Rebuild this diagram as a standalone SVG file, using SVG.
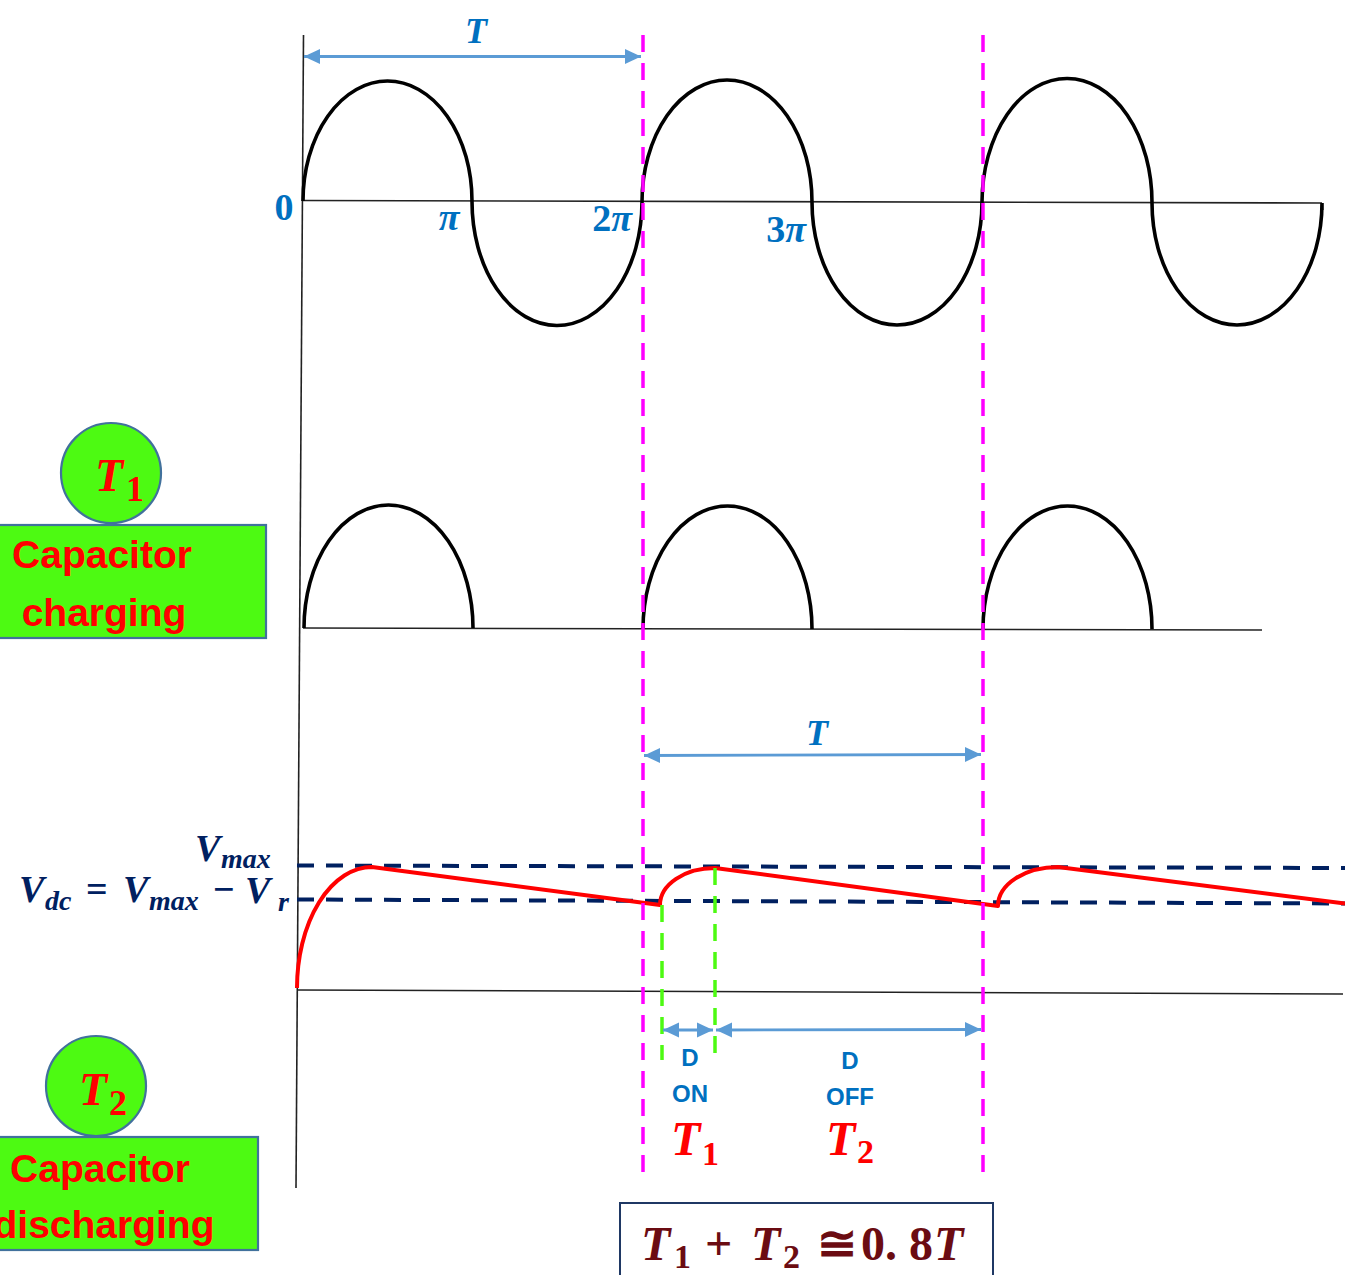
<svg xmlns="http://www.w3.org/2000/svg" width="1345" height="1275" viewBox="0 0 1345 1275">
<defs>
<style>
.axis{stroke:#222;stroke-width:1.6;fill:none}
.wave{stroke:#000;stroke-width:3.6;fill:none;stroke-linecap:butt}
.mag{stroke:#FF00FF;stroke-width:3.5;stroke-dasharray:17 11;fill:none}
.grn{stroke:#4DFA12;stroke-width:3.5;stroke-dasharray:17 11;fill:none}
.navy{stroke:#002060;stroke-width:4;stroke-dasharray:17 12;fill:none}
.red{stroke:#FF0000;stroke-width:4;fill:none;stroke-linejoin:round}
.arr{stroke:#5B9BD5;stroke-width:2.8;fill:none;marker-start:url(#ah);marker-end:url(#ah)}
.math{font-family:"Liberation Serif","DejaVu Serif",serif;font-weight:bold;font-style:italic}
.up{font-style:normal}
.blue{fill:#0070C0}
.dk{fill:#002060}
.rd{fill:#FF0000}
.br{fill:#6B0C12}
.lbl{font-family:"Liberation Sans","Open Sans",sans-serif;font-weight:bold;fill:#0070C0;font-size:24px;text-anchor:middle}
.node{font-family:"Liberation Sans","Open Sans",sans-serif;font-weight:bold;fill:#FF0000;font-size:39px;text-anchor:middle}
.nfill{fill:#4DFA12;stroke:#41719C;stroke-width:2.2}
</style>
<marker id="ah" viewBox="0 0 16 16" refX="16" refY="8" markerWidth="16" markerHeight="16" markerUnits="userSpaceOnUse" orient="auto-start-reverse">
<path d="M0,0.5 L16,8 L0,15.5 Z" fill="#5B9BD5"/>
</marker>
</defs>

<g id="axes">
<line class="axis" x1="303.5" y1="35" x2="296" y2="1188"/>
<line class="axis" x1="303" y1="200.5" x2="1322" y2="203"/>
<line class="axis" x1="303" y1="628" x2="1262" y2="630"/>
<line class="axis" x1="297" y1="990" x2="1343" y2="994"/>
</g>

<g id="input-wave">
<path class="wave" d="M303,201 A84.5,120 0 0 1 472,201 A85,124 0 0 0 642,202 A85,122 0 0 1 812,202 A85,123 0 0 0 982,202 A85,124 0 0 1 1152,203 A85,122 0 0 0 1322,203 L1322,210"/>
</g>

<g id="rectified-wave">
<path class="wave" d="M304,628 A84.5,123 0 0 1 473,628"/>
<path class="wave" d="M643,629 A84.5,123 0 0 1 812,629"/>
<path class="wave" d="M983,629 A84.5,123 0 0 1 1152,629"/>
</g>

<g id="levels">
<line class="navy" x1="297" y1="865.5" x2="1345" y2="868"/>
<line class="navy" x1="297" y1="899.5" x2="1345" y2="903.5"/>
</g>

<g id="capacitor-voltage">
<path class="red" d="M297,988 A75,121 0 0 1 372,867 L660,905 A55,37 0 0 1 715,868 L998,906 A60,39 0 0 1 1058,867 L1345,903.5"/>
</g>

<g id="connectors">
<line class="mag" x1="643" y1="35" x2="643" y2="1172"/>
<line class="mag" x1="983" y1="35" x2="983" y2="1172"/>
<line class="grn" x1="662" y1="905" x2="662" y2="1060"/>
<line class="grn" x1="715" y1="868" x2="715" y2="1055"/>
<line class="arr" x1="304" y1="56.5" x2="641" y2="56.5"/>
<line class="arr" x1="644" y1="755.5" x2="981" y2="754.5"/>
<line class="arr" x1="663" y1="1030" x2="713" y2="1030"/>
<line class="arr" x1="716" y1="1030" x2="981" y2="1029.5"/>
</g>

<g id="axis-labels">
<text class="math blue" x="476" y="43" font-size="36" text-anchor="middle">T</text>
<text class="math blue up" x="284" y="220" font-size="38" text-anchor="middle">0</text>
<text class="math blue" x="449" y="230" font-size="38" text-anchor="middle">π</text>
<text class="math blue" x="612" y="231" font-size="38" text-anchor="middle"><tspan class="up">2</tspan>π</text>
<text class="math blue" x="786" y="242" font-size="38" text-anchor="middle"><tspan class="up">3</tspan>π</text>
<text class="math blue" x="817" y="745" font-size="36" text-anchor="middle">T</text>
</g>

<g id="voltage-labels">
<text class="math dk" font-size="38"><tspan x="195" y="861">V</tspan><tspan x="221" y="868" font-size="28">max</tspan></text>
<text class="math dk" font-size="38"><tspan x="19" y="902">V</tspan><tspan x="45" y="910" font-size="28">dc</tspan><tspan x="86" y="902" class="up">=</tspan><tspan x="123" y="902">V</tspan><tspan x="149" y="910" font-size="28">max</tspan><tspan x="213" y="902" class="up">−</tspan><tspan x="245" y="903">V</tspan><tspan x="278" y="911" font-size="28">r</tspan></text>
</g>

<g id="diode-labels">
<text class="lbl" x="690" y="1066">D</text>
<text class="lbl" x="690" y="1102">ON</text>
<text class="lbl" x="850" y="1069">D</text>
<text class="lbl" x="850" y="1105">OFF</text>
<text class="math rd" font-size="48"><tspan x="671" y="1155">T</tspan><tspan x="702" y="1165" font-size="34" class="up">1</tspan></text>
<text class="math rd" font-size="48"><tspan x="826" y="1155">T</tspan><tspan x="857" y="1163" font-size="34" class="up">2</tspan></text>
</g>

<g id="node-T1">
<circle class="nfill" cx="111" cy="473" r="50"/>
<text class="math rd" font-size="46"><tspan x="95" y="491">T</tspan><tspan x="126" y="501" font-size="36" class="up">1</tspan></text>
</g>
<g id="node-charging">
<rect class="nfill" x="-2" y="525" width="268" height="113"/>
<text class="node" x="102" y="568">Capacitor</text>
<text class="node" x="104" y="626">charging</text>
</g>

<g id="node-T2">
<circle class="nfill" cx="96" cy="1086" r="50"/>
<text class="math rd" font-size="46"><tspan x="79" y="1105">T</tspan><tspan x="109" y="1115" font-size="36" class="up">2</tspan></text>
</g>
<g id="node-discharging">
<rect class="nfill" x="-2" y="1137" width="260" height="113"/>
<text class="node" x="100" y="1182">Capacitor</text>
<text class="node" x="104" y="1238">discharging</text>
</g>

<g id="node-formula">
<rect x="620" y="1203" width="373" height="90" fill="#fff" stroke="#1F3864" stroke-width="2"/>
<text class="math br" font-size="48"><tspan x="641" y="1260">T</tspan><tspan x="674" y="1268" font-size="34" class="up">1</tspan><tspan x="705" y="1260" class="up">+</tspan><tspan x="751" y="1260">T</tspan><tspan x="783" y="1268" font-size="34" class="up">2</tspan><tspan x="817" y="1260" class="up">≅</tspan><tspan x="861" y="1260" class="up">0. 8</tspan><tspan x="934" y="1260">T</tspan></text>
</g>
</svg>
